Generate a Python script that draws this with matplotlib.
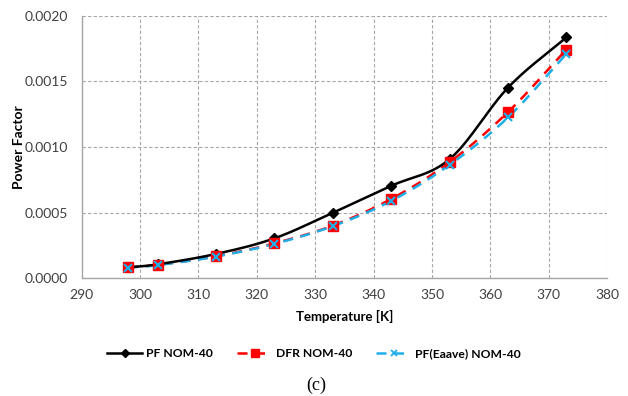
import numpy as np
import matplotlib
matplotlib.use("Agg")
import matplotlib.pyplot as plt
from matplotlib.lines import Line2D

temperature = [298, 303, 313, 323, 333, 343, 353, 363, 373]
pf_nom40 = [0.000084, 0.000107, 0.000186, 0.000305, 0.000500, 0.000705, 0.000908, 0.001453, 0.001837]
dfr_nom40 = [0.000084, 0.000103, 0.000168, 0.000267, 0.000402, 0.000605, 0.000885, 0.001267, 0.001743]
pf_eaave_nom40 = [0.000082, 0.000101, 0.000166, 0.000263, 0.000398, 0.000590, 0.000865, 0.001226, 0.001710]

series_labels = ["PF NOM-40", "DFR NOM-40", "PF(Eaave) NOM-40"]


def smooth(x, y, n=30):
    """Catmull-Rom curve through the points, like a spreadsheet's smoothed line."""
    x = np.asarray(x, float)
    y = np.asarray(y, float)
    px = np.concatenate([[2 * x[0] - x[1]], x, [2 * x[-1] - x[-2]]])
    py = np.concatenate([[2 * y[0] - y[1]], y, [2 * y[-1] - y[-2]]])
    xs, ys = [], []
    t = np.linspace(0, 1, n, endpoint=False)
    for i in range(1, len(px) - 2):
        for arr, out in ((px, xs), (py, ys)):
            p0, p1, p2, p3 = arr[i - 1], arr[i], arr[i + 1], arr[i + 2]
            out.extend(0.5 * ((2 * p1) + (-p0 + p2) * t
                              + (2 * p0 - 5 * p1 + 4 * p2 - p3) * t ** 2
                              + (-p0 + 3 * p1 - 3 * p2 + p3) * t ** 3))
    xs.append(x[-1])
    ys.append(y[-1])
    return np.array(xs), np.array(ys)


plt.rcParams["font.family"] = ["Lato", "DejaVu Sans"]

fig = plt.figure(figsize=(6.28, 3.96), dpi=100)
ax = fig.add_axes([0.130, 0.297, 0.837, 0.663])

blue = "#1FAEE8"

sx, sy = smooth(temperature, pf_nom40)
ax.plot(sx, sy, color="black", lw=1.8, zorder=4)
ax.plot(temperature, pf_nom40, ls="none", marker="D", ms=5, color="black", zorder=5)

sx, sy = smooth(temperature, dfr_nom40)
ax.plot(sx, sy, color="#FF0000", lw=1.8, ls=(0, (4, 3)), zorder=3)
ax.plot(temperature, dfr_nom40, ls="none", marker="s", ms=7, color="#FF0000", zorder=5)

sx, sy = smooth(temperature, pf_eaave_nom40)
ax.plot(sx, sy, color=blue, lw=1.8, ls=(0, (4, 3)), zorder=3)
ax.plot(temperature, pf_eaave_nom40, ls="none", marker="x", ms=6, mew=1.5, color=blue, zorder=6)

ax.set_xlim(290, 380)
ax.set_ylim(0, 0.002)
ax.set_xticks(np.arange(290, 381, 10))
ax.set_yticks(np.arange(0, 0.00201, 0.0005))
ax.yaxis.set_major_formatter(plt.FuncFormatter(lambda v, p: f"{v:.4f}"))
ax.tick_params(length=0, labelsize=10, colors="#404040")
ax.tick_params(axis="x", pad=8)
ax.tick_params(axis="y", pad=10)

ax.grid(True, color="#A6A6A6", ls=(0, (3, 2)), lw=0.8)
for side in ("top", "right"):
    ax.spines[side].set_visible(False)
for side in ("left", "bottom"):
    ax.spines[side].set_color("#A6A6A6")
    ax.spines[side].set_linewidth(1.0)

ax.set_xlabel("Temperature [K]", fontsize=9.5, fontweight="bold", labelpad=6)
ax.set_ylabel("Power Factor", fontsize=10, fontweight="bold")
ax.yaxis.set_label_coords(-0.108, 0.5)

handles = [
    Line2D([], [], color="black", lw=1.8, marker="D", ms=4.5),
    Line2D([], [], color="#FF0000", lw=1.8, ls=(0, (4, 3)), marker="s", ms=6),
    Line2D([], [], color=blue, lw=1.8, ls=(0, (4, 3)), marker="x", ms=5, mew=1.3),
]
fig.legend(handles, series_labels, loc="center", bbox_to_anchor=(0.5, 0.108),
           ncol=3, frameon=False, handlelength=2.9, handletextpad=0.3,
           columnspacing=2.0, prop={"weight": "bold", "size": 8.7})

fig.text(0.503, 0.028, "(c)", fontsize=13, family="Liberation Serif",
         ha="center", va="center", color="black")

fig.savefig("out.png", dpi=100)
